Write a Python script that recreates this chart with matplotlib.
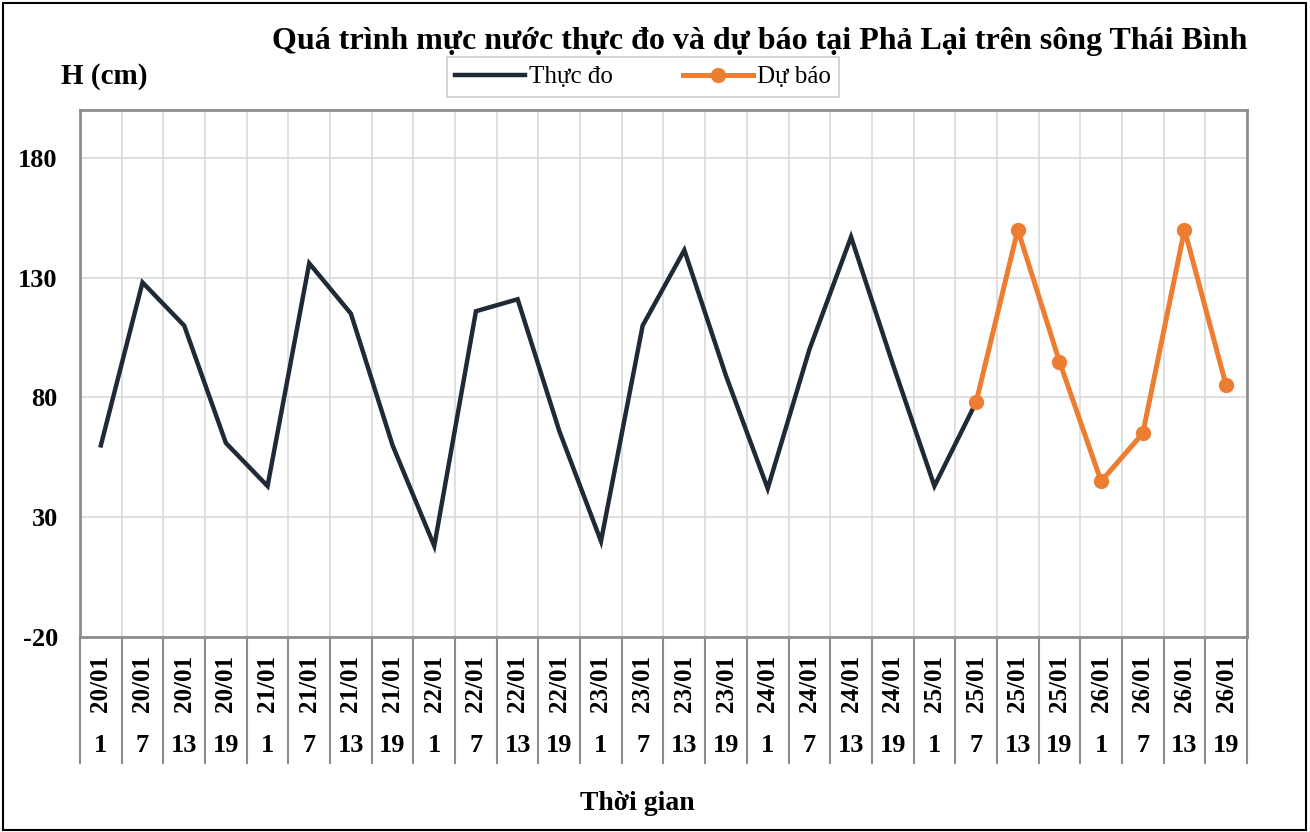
import numpy as np
import matplotlib.pyplot as plt
from matplotlib.patches import Rectangle
import matplotlib.transforms as mtransforms

plt.rcParams['font.family'] = ['Liberation Serif', 'DejaVu Serif']

# -----------------
# Data
# -----------------
dates = ['20/01'] * 4 + ['21/01'] * 4 + ['22/01'] * 4 + ['23/01'] * 4 + \
        ['24/01'] * 4 + ['25/01'] * 4 + ['26/01'] * 4
hours = ['1', '7', '13', '19'] * 7

thuc_do = [60, 128, 110, 61, 43, 136, 115, 60, 18, 116, 121, 66, 20, 110,
           141.5, 89, 42, 100, 147, 94, 43, 78]
du_bao = [78, 150, 95, 45, 65, 150, 85]

n = len(dates)
x_td = np.arange(len(thuc_do))
x_db = np.arange(len(thuc_do) - 1, n)

# -----------------
# Figure / axes layout (pixel based)
# -----------------
W, H = 1310, 832
fig = plt.figure(figsize=(W / 100, H / 100), dpi=100)
L, R, T, B = 80, 1247, 110, 637
ax = fig.add_axes([L / W, 1 - B / H, (R - L) / W, (B - T) / H])

ax.plot(x_td, thuc_do, color='#1f2a36', lw=3.2, solid_joinstyle='miter',
        label='Thực đo', zorder=3)
ax.plot(x_db, du_bao, color='#ed7d31', lw=3.6, marker='o', ms=10,
        label='Dự báo', zorder=4)

ax.set_xlim(-0.5, n - 0.5)
ax.set_ylim(-20, 200)
ax.set_yticks([-20, 30, 80, 130, 180])
ax.set_yticklabels(['-20', '30', '80', '130', '180'], fontsize=19,
                   fontweight='bold')
ax.tick_params(axis='y', length=0, pad=16)

# vertical grid at category boundaries
ax.set_xticks(np.arange(-0.5, n, 1.0), minor=True)
ax.set_xticks([])
ax.tick_params(axis='x', which='both', length=0)
ax.grid(True, which='minor', axis='x', color='#d9d9d9', lw=1.2)
ax.grid(True, which='major', axis='y', color='#d9d9d9', lw=1.2)
ax.set_axisbelow(True)
for s in ax.spines.values():
    s.set_color('#8c8c8c')
    s.set_linewidth(2)

# -----------------
# Two-level category axis
# -----------------
trans = mtransforms.blended_transform_factory(ax.transData, ax.transAxes)
ph = B - T
sep_bottom = -(763 - B) / ph
for i in range(n + 1):
    ax.plot([i - 0.5, i - 0.5], [0, sep_bottom], transform=trans,
            color='#8c8c8c', lw=1.5, clip_on=False)
for i in range(n):
    ax.text(i, -(683 - B) / ph, dates[i], transform=trans, rotation=90,
            ha='center', va='center', fontsize=18, fontweight='bold')
    ax.text(i, -(746 - B) / ph, hours[i], transform=trans,
            ha='center', va='center', fontsize=19, fontweight='bold')

# -----------------
# Texts
# -----------------
fig.text(760 / W, 1 - 41 / H, 'Quá trình mực nước thực đo và dự báo tại Phả Lại trên sông Thái Bình',
         ha='center', va='center', fontsize=23, fontweight='bold')
fig.text(104 / W, 1 - 76 / H, 'H (cm)', ha='center', va='center',
         fontsize=21, fontweight='bold')
fig.text(637 / W, 1 - 803 / H, 'Thời gian', ha='center', va='center',
         fontsize=20, fontweight='bold')

leg = fig.legend(loc='center', bbox_to_anchor=(643 / W, 1 - 77 / H), ncol=2,
                 fontsize=18, frameon=True, fancybox=False, handlelength=2.8,
                 columnspacing=2.8, borderpad=0.35, handletextpad=0.15,
                 borderaxespad=0)
leg.get_frame().set_edgecolor('#bfbfbf')
leg.get_frame().set_linewidth(1.2)

# outer border
fig.patches.append(Rectangle((3 / W, 2 / H), 1 - 7 / W, 1 - 5 / H,
                             transform=fig.transFigure, fill=False,
                             edgecolor='black', lw=1.5))

fig.savefig('out.png', dpi=100)
